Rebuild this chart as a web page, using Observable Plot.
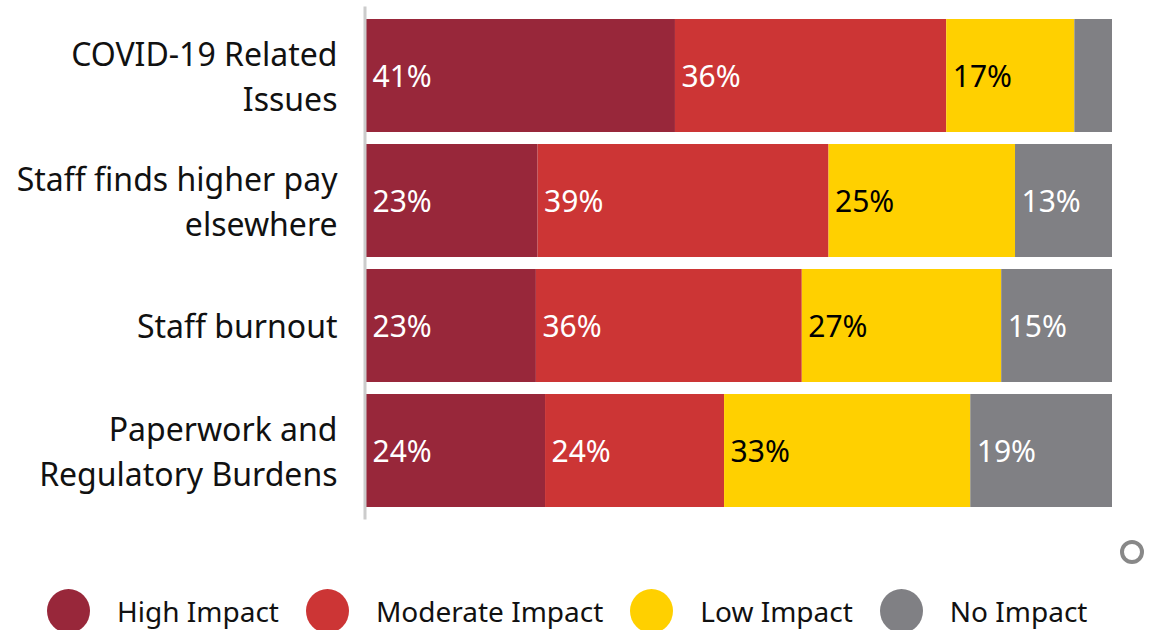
<!DOCTYPE html>
<html>
<head>
<meta charset="utf-8">
<script src="https://cdn.jsdelivr.net/npm/d3@7"></script>
<script src="https://cdn.jsdelivr.net/npm/@observablehq/plot@0.6"></script>
<style>
  html, body { margin: 0; padding: 0; background: #fff; }
  body { width: 1156px; height: 630px; position: relative; overflow: hidden; font-family: "Noto Sans", sans-serif; }
  #legend { position: absolute; left: 47px; top: 589px; display: flex; align-items: center; gap: 27px; }
  .item { display: flex; align-items: center; gap: 27px; font-size: 28px; color: #111; }
  .dot { width: 43px; height: 44px; border-radius: 50%; flex: none; }
  #ring { position: absolute; left: 1120px; top: 540px; width: 16px; height: 16px; border: 4px solid #888; border-radius: 50%; }
</style>
</head>
<body>
<div id="chart"></div>
<div id="legend"></div>
<div id="ring"></div>
<script>
const causes = ["COVID-19 Related Issues", "Staff finds higher pay elsewhere", "Staff burnout", "Paperwork and Regulatory Burdens"];
const causeLabels = ["COVID-19 Related\nIssues", "Staff finds higher pay\nelsewhere", "Staff burnout", "Paperwork and\nRegulatory Burdens"];
const impacts = ["High Impact", "Moderate Impact", "Low Impact", "No Impact"];
const colors = ["#98273a", "#cc3535", "#ffd000", "#808084"];
const highImpact = [41, 23, 23, 24];
const moderateImpact = [36, 39, 36, 24];
const lowImpact = [17, 25, 27, 33];
const noImpact = [5, 13, 15, 19];

const series = [highImpact, moderateImpact, lowImpact, noImpact];
const data = [];
causes.forEach((c, i) => {
  impacts.forEach((imp, j) => {
    data.push({cause: c, impact: imp, value: series[j][i]});
  });
});
const labelOf = new Map(causes.map((c, i) => [c, causeLabels[i]]));

const stackOpts = {x: "value", y: "cause", z: "impact", offset: "normalize"};

const chart = Plot.plot({
  width: 1156,
  height: 525,
  marginLeft: 366,
  marginRight: 44,
  marginTop: 6.5,
  marginBottom: 5.5,
  style: {fontFamily: "Noto Sans", background: "#fff"},
  x: {domain: [0, 1], axis: null},
  y: {domain: causes, padding: 0.1, label: null},
  color: {domain: impacts, range: colors},
  marks: [
    Plot.barX(data, Plot.stackX({...stackOpts, fill: "impact"})),
    Plot.text(data, Plot.stackX1({...stackOpts,
      text: d => (d.impact !== "Low Impact" && d.value >= 10) ? `${d.value}%` : "",
      fill: "white", textAnchor: "start", dx: 6, dy: 1, fontSize: 30})),
    Plot.text(data, Plot.stackX1({...stackOpts,
      text: d => (d.impact === "Low Impact" && d.value >= 10) ? `${d.value}%` : "",
      fill: "black", textAnchor: "start", dx: 6, dy: 1, fontSize: 30})),
    Plot.axisY({tickSize: 0, tickPadding: 29, fontSize: 32, lineHeight: 1.4, dy: -2,
      tickFormat: d => labelOf.get(d), fill: "#111", label: null}),
    Plot.ruleX([0], {stroke: "#cccccc", strokeWidth: 3, dx: -1.5})
  ]
});
document.getElementById("chart").appendChild(chart);

const legend = document.getElementById("legend");
impacts.forEach((imp, i) => {
  const item = document.createElement("div");
  item.className = "item";
  const dot = document.createElement("div");
  dot.className = "dot";
  dot.style.background = colors[i];
  const label = document.createElement("span");
  label.textContent = imp;
  item.appendChild(dot);
  item.appendChild(label);
  legend.appendChild(item);
});
</script>
</body>
</html>
